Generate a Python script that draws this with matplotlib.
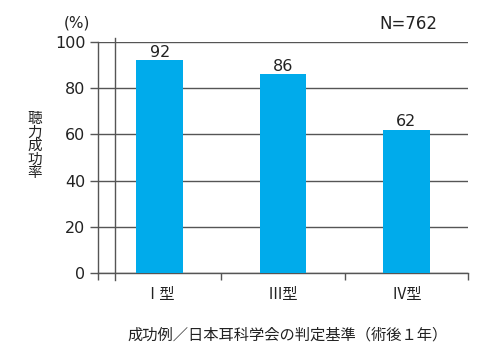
import matplotlib.pyplot as plt
from matplotlib.lines import Line2D

plt.rcParams['font.family'] = ['DejaVu Sans', 'Noto Sans CJK JP']
cjk = ['Noto Sans CJK JP', 'DejaVu Sans']

categories = ['Ⅰ型', 'Ⅲ型', 'Ⅳ型']
values = [92, 86, 62]
yticks = [0, 20, 40, 60, 80, 100]

bar_color = '#00abeb'
line_color = '#555555'
text_color = '#222222'

fig = plt.figure(figsize=(5.0, 3.48), dpi=100)
ax = fig.add_axes([0.196, 0.2155, 0.74, 0.664])

x = list(range(len(categories)))
ax.bar(x, values, width=0.38, color=bar_color, zorder=3)
for xi, v in zip(x, values):
    ax.text(xi, v + 0.3, str(v), ha='center', va='bottom', fontsize=11.5, color=text_color)

ax.set_xlim(-0.5, 2.5)
ax.set_ylim(0, 100)

# horizontal grid
ax.set_yticks(yticks)
ax.set_yticklabels([str(t) for t in yticks], fontsize=11.5, color=text_color)
ax.yaxis.grid(True, color=line_color, linewidth=1.0, zorder=1)
ax.tick_params(axis='y', length=6, width=1.0, color=line_color, pad=3)

# category ticks and boundary ticks
ax.set_xticks(x)
ax.set_xticklabels(categories, fontsize=11, color=text_color, family=cjk)
ax.set_xticks([-0.5, 0.5, 1.5, 2.5], minor=True)
ax.tick_params(axis='x', which='major', length=0, pad=9)
ax.tick_params(axis='x', which='minor', length=5, width=1.0, color=line_color)

for s in ['top', 'right']:
    ax.spines[s].set_visible(False)
for s in ['left', 'bottom']:
    ax.spines[s].set_color(line_color)
    ax.spines[s].set_linewidth(1.0)

# second vertical line near the y axis
ax.add_line(Line2D([0.046, 0.046], [-0.03, 1.015], transform=ax.transAxes,
                   color=line_color, linewidth=1.0, clip_on=False, zorder=2))

fig.text(0.154, 0.933, '(%)', ha='center', va='center', fontsize=11, color=text_color)
fig.text(0.816, 0.930, 'N=762', ha='center', va='center', fontsize=12, color=text_color)
fig.text(0.07, 0.58, '\n'.join('聴力成功率'), ha='center', va='center', fontsize=10.5,
         linespacing=0.95, color=text_color, family=cjk)
fig.text(0.576, 0.037, '成功例／日本耳科学会の判定基準（術後１年）', ha='center', va='center',
         fontsize=11, color=text_color, family=cjk)

fig.savefig('out.png', dpi=100)
